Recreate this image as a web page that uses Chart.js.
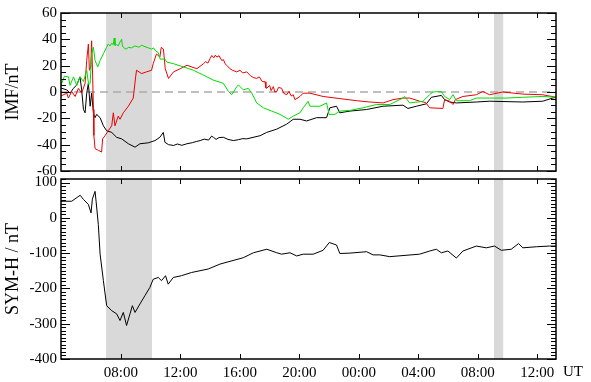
<!DOCTYPE html>
<html>
<head>
<meta charset="utf-8">
<script src="https://cdn.jsdelivr.net/npm/chart.js@4"></script>
<style>
  body { margin: 0; background: #fff; }
  #wrap { position: relative; width: 591px; height: 382px; }
  canvas { position: absolute; left: 0; }
</style>
</head>
<body>
<div id="wrap">
  <canvas id="imfChart" width="591" height="190" style="top:0"></canvas>
  <canvas id="symChart" width="591" height="218" style="top:164px"></canvas>
</div>
<script>
// time axis in hours from 00:00 UT of the first day
const xMin = 3.97, xMax = 37.26;
const xTickHours = [8, 12, 16, 20, 24, 28, 32, 36];
const xTickLabels = ['08:00', '12:00', '16:00', '20:00', '00:00', '04:00', '08:00', '12:00'];
const bandStart = [7.0, 33.09];
const bandEnd = [10.09, 33.71];

const imfTicks = [-60, -40, -20, 0, 20, 40, 60];
const symTicks = [-400, -300, -200, -100, 0, 100];

// IMF components (nT)
const blackT = [3.97,4.36,4.58,4.81,5.03,5.25,5.36,5.48,5.59,5.70,5.81,5.93,6.03,6.15,6.26,6.37,6.60,6.82,7.04,7.38,7.71,8.05,8.50,8.95,9.28,9.84,10.29,10.62,10.85,10.96,11.20,11.54,11.80,12.10,12.44,12.80,13.10,13.33,13.60,13.90,14.10,14.22,14.40,14.60,14.89,15.20,15.56,15.90,16.20,16.46,17.36,17.80,18.48,19.15,19.59,20.04,20.49,21.16,21.83,22.05,22.50,22.72,23.40,24.52,25.63,26.97,27.30,27.87,28.54,28.88,29.55,29.77,30.11,30.56,31.90,32.79,35.03,36.37,37.04,37.26];
const blackV = [3,1.6,-0.9,2.8,5.4,11.5,1.6,-13.3,-15.8,-0.9,6.6,-10.8,-0.9,-15.8,-19.5,-17,-19.5,-25.7,-29.4,-30.7,-34.4,-35.6,-39.3,-41.9,-39.3,-38.6,-36.9,-34.4,-30.7,-38.2,-40,-40.6,-39.5,-40.5,-39.3,-38.5,-37.5,-36.9,-35.8,-36.5,-33.5,-34.4,-36,-34.6,-34.4,-36,-36.9,-36.2,-35.4,-35.6,-33.2,-30.7,-28.2,-24.4,-20.7,-20.7,-22,-19.5,-19.5,-12,-10.8,-15.8,-14.5,-13.3,-10.8,-10,-12.5,-10.8,-9,-4,-2.6,-5.8,-7.6,-8.3,-7.6,-7,-7.6,-7,-4.6,-4];

const redT = [3.97,4.36,4.47,4.69,4.92,5.14,5.36,5.59,5.70,5.81,5.88,5.97,6.03,6.10,6.15,6.18,6.26,6.48,6.70,6.77,6.93,7.15,7.38,7.49,7.60,7.82,7.94,8.16,8.50,8.83,8.99,9.05,9.39,9.72,10.06,10.17,10.39,10.62,10.71,10.86,10.98,11.20,11.54,11.99,12.44,13.11,13.55,13.70,13.85,14.00,14.11,14.25,14.35,14.45,14.60,14.78,14.90,15.00,15.12,15.30,15.50,15.79,16.00,16.20,16.46,16.70,16.90,17.13,17.30,17.50,17.69,17.75,17.80,18.00,18.10,18.25,18.35,18.48,18.60,18.81,18.95,19.15,19.30,19.45,19.59,19.70,20.04,20.26,20.71,21.60,22.72,23.84,24.74,25.63,26.30,26.97,27.42,28.09,28.50,28.76,29.65,29.77,30.11,30.33,30.49,31.00,31.90,32.34,32.79,33.68,35.03,36.37,37.26];
const redV = [-3,-0.9,-4.6,0.4,-3.4,2.8,-0.9,6.6,24,36.4,16.5,19,38.9,11.5,-13.3,-33,-43,-44.3,-45.6,-35.6,-33.2,-29.4,-25.7,-15.8,-25.7,-18.3,-20.7,-15.8,-10.8,-4.6,11.5,16.5,14,15.3,16.5,21.5,28.9,26.5,33.9,32.6,17.7,10.3,15.3,17.7,20.3,17.7,21.5,23,22,25.5,27.7,26,28,26.5,27.5,24,24.5,21.5,20.3,18,16.5,15.3,16.5,14.5,15.3,12.5,11,10.3,11.5,8,7.8,3,2.8,5,1,4.1,0,0.4,3.5,2.8,-1,-2.1,0.5,-3,-2.1,-5.8,-3.4,-0.9,-0.9,-3.4,-5,-6.6,-7.6,-8.3,-5.8,-4.6,-4.6,-7,-8,-12,-12.5,-5.8,-7,-9.5,-5.8,-3.4,-2.1,0.4,-2.1,0,-1.6,-2.1,-4];

const greenT = [3.97,4.20,4.47,4.58,4.81,5.03,5.25,5.48,5.70,5.83,5.93,6.03,6.15,6.26,6.44,6.60,6.82,7.04,7.15,7.27,7.38,7.49,7.55,7.60,7.71,7.82,7.94,8.05,8.10,8.16,8.27,8.38,8.50,8.70,8.95,9.20,9.40,9.62,9.85,10.06,10.20,10.35,10.51,10.64,10.96,11.09,11.54,12.21,12.88,13.55,14.22,14.89,15.23,15.45,15.79,15.90,16.23,16.57,16.80,17.13,17.58,18.14,18.70,19.26,19.59,20.04,20.26,20.59,20.71,21.38,21.83,22.00,22.39,22.72,23.40,24.28,25.19,26.08,26.97,27.08,27.42,28.31,28.76,28.98,29.55,29.77,30.11,30.33,30.56,31.45,31.90,32.79,33.91,35.03,36.37,37.26];
const greenV = [5,12,11.5,5,11.5,5,11.5,8,16.5,5.4,6.5,29,34,24,19,24,29,34,36.5,35,37,36,41,35.5,36,35,38,40,35,34,33,32.6,34,33.5,35,34,35.5,34.4,33.5,32.6,33.5,31,30,25,25,22.7,21.5,19,16.5,12.8,9,6.6,0.4,-2,4,5.4,1.6,2.8,-0.9,-8.3,-12,-14.5,-17,-20.7,-18.3,-15.8,-12,-7.1,-10.8,-10.8,-8.3,-17,-17,-14.5,-14,-12,-9.5,-9.5,-4.6,-3.4,-8.3,-7.1,-2,0,0.4,-3.4,-5.8,-2,-6.6,-6.6,-4.6,-4.6,-4.6,-4,-3.4,-4];

// SYM-H (nT)
const symT = [3.97,4.69,5.26,5.48,5.81,5.99,6.08,6.26,6.33,6.48,6.60,6.82,7.04,7.38,7.71,7.94,8.16,8.38,8.61,8.77,8.95,9.28,9.62,9.95,10.17,10.51,10.73,11.00,11.18,11.52,12.07,12.74,13.87,14.67,16.23,16.91,17.81,18.48,18.81,19.37,19.82,20.26,20.93,21.60,22.01,22.50,22.72,23.40,24.52,24.96,25.41,26.08,28.09,28.77,29.21,29.55,29.99,30.56,31.00,31.90,32.57,33.13,33.58,34.25,34.74,35.03,35.93,36.82,37.26];
const symV = [47,47,64,52,38,14,53,75,47,-19,-103,-178,-249,-263,-272,-291,-268,-305,-272,-249,-268,-244,-220,-197,-174,-169,-178,-164,-188,-169,-164,-155,-145,-131,-113,-99,-89,-99,-103,-99,-108,-103,-103,-92,-70,-77,-101,-100,-96,-105,-105,-110,-103,-94,-89,-99,-94,-114,-94,-80,-85,-80,-92,-89,-73,-85,-82,-80,-80];

const serif = "'Liberation Serif', 'Times New Roman', serif";
const zip = (t, v) => t.map((x, i) => ({ x: x, y: v[i] }));

const panelDecor = {
    id: 'panelDecor',
    beforeDatasetsDraw(chart, args, opts) {
        const { ctx, chartArea: a, scales: { x, y } } = chart;
        ctx.save();
        ctx.fillStyle = '#d9d9d9';
        bandStart.forEach((s, i) => {
            const x0 = x.getPixelForValue(s);
            const x1 = x.getPixelForValue(bandEnd[i]);
            ctx.fillRect(x0, a.top, x1 - x0, a.bottom - a.top);
        });
        if (opts.zeroLine) {
            const py = y.getPixelForValue(0);
            ctx.strokeStyle = '#aaaaaa';
            ctx.lineWidth = 1.5;
            ctx.setLineDash([8, 5]);
            ctx.beginPath();
            ctx.moveTo(a.left, py);
            ctx.lineTo(a.right, py);
            ctx.stroke();
        }
        ctx.restore();
    },
    afterDraw(chart, args, opts) {
        const { ctx, chartArea: a, scales: { x, y } } = chart;
        ctx.save();
        ctx.strokeStyle = '#000';
        ctx.lineWidth = 1;
        ctx.beginPath();
        xTickHours.forEach(h => {
            const px = Math.round(x.getPixelForValue(h)) + 0.5;
            ctx.moveTo(px, a.top); ctx.lineTo(px, a.top + 5);
            ctx.moveTo(px, a.bottom); ctx.lineTo(px, a.bottom - 5);
        });
        for (let v = y.min; v <= y.max + 1e-6; v += opts.minor) {
            const len = Math.abs(v % opts.major) < 1e-6 ? 9 : 5;
            const py = Math.round(y.getPixelForValue(v)) + 0.5;
            ctx.moveTo(a.left, py); ctx.lineTo(a.left + len, py);
            ctx.moveTo(a.right, py); ctx.lineTo(a.right - len, py);
        }
        ctx.stroke();
        ctx.lineWidth = 1.5;
        ctx.strokeRect(a.left, a.top, a.right - a.left, a.bottom - a.top);
        if (opts.unit) {
            ctx.fillStyle = '#000';
            ctx.font = '15px ' + serif;
            ctx.textAlign = 'left';
            ctx.textBaseline = 'middle';
            ctx.fillText(opts.unit, a.right + 7, a.bottom + 13);
        }
        ctx.restore();
    }
};

function yAxis(min, max, ticks, title) {
    return {
        min: min, max: max,
        afterBuildTicks: s => { s.ticks = ticks.map(v => ({ value: v })); },
        afterFit: s => { s.width = 61; },
        grid: { display: false, drawTicks: false },
        border: { display: false },
        ticks: { color: '#000', padding: 4, font: { family: serif, size: 15 } },
        title: { display: true, text: title, color: '#000', padding: { top: 2, bottom: 0 }, font: { family: serif, size: 18 } }
    };
}

function line(data, color) {
    return { data: data, borderColor: color, borderWidth: 1, pointRadius: 0, tension: 0, fill: false };
}

new Chart(document.getElementById('imfChart'), {
    type: 'line',
    data: {
        datasets: [
            line(zip(greenT, greenV), '#00dd00'),
            line(zip(redT, redV), '#ee0000'),
            line(zip(blackT, blackV), '#000000')
        ]
    },
    options: {
        responsive: false,
        animation: false,
        layout: { padding: { left: 0, right: 35, top: 10, bottom: 19 } },
        plugins: {
            legend: { display: false },
            tooltip: { enabled: false },
            panelDecor: { zeroLine: true, minor: 5, major: 20 }
        },
        scales: {
            x: { type: 'linear', min: xMin, max: xMax, display: false },
            y: yAxis(-60, 60, imfTicks, 'IMF/nT')
        }
    },
    plugins: [panelDecor]
});

new Chart(document.getElementById('symChart'), {
    type: 'line',
    data: {
        datasets: [line(zip(symT, symV), '#000000')]
    },
    options: {
        responsive: false,
        animation: false,
        layout: { padding: { left: 0, right: 35, top: 15, bottom: 0 } },
        plugins: {
            legend: { display: false },
            tooltip: { enabled: false },
            panelDecor: { zeroLine: false, minor: 10, major: 100, unit: 'UT' }
        },
        scales: {
            x: {
                type: 'linear', min: xMin, max: xMax,
                afterBuildTicks: s => { s.ticks = xTickHours.map(v => ({ value: v })); },
                afterFit: s => { s.height = 23; },
                grid: { display: false, drawTicks: false },
                border: { display: false },
                ticks: {
                    color: '#000', padding: 5, maxRotation: 0, autoSkip: false,
                    font: { family: serif, size: 15 },
                    callback: (v, i) => xTickLabels[i]
                }
            },
            y: yAxis(-400, 110, symTicks, 'SYM-H / nT')
        }
    },
    plugins: [panelDecor]
});
</script>
</body>
</html>
